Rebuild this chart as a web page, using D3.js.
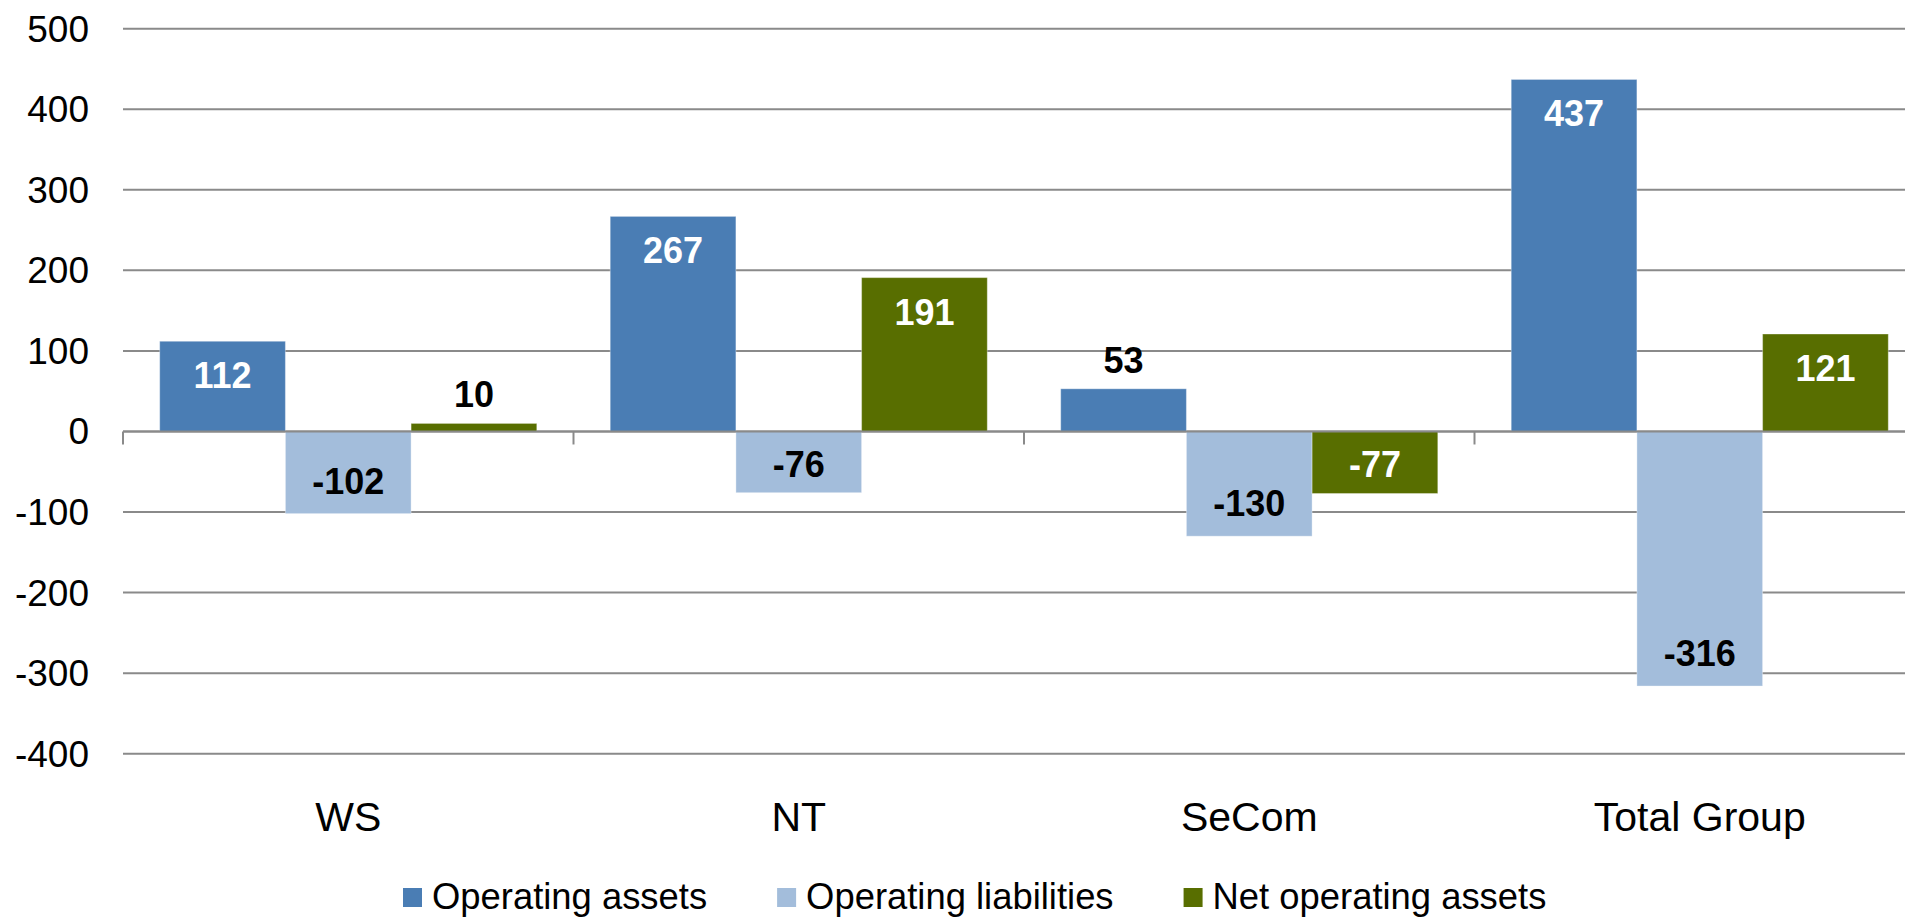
<!DOCTYPE html>
<html>
<head>
<meta charset="utf-8">
<script src="https://cdn.jsdelivr.net/npm/d3@7"></script>
<style>
  html, body { margin: 0; padding: 0; background: #ffffff; overflow: hidden; }
  svg { display: block; font-family: "Liberation Sans", Arial, sans-serif; }
</style>
</head>
<body>
<svg id="chart" width="1905" height="918"></svg>
<script>
const categories = ["WS", "NT", "SeCom", "Total Group"];
const seriesNames = ["Operating assets", "Operating liabilities", "Net operating assets"];
const operatingAssets = [112, 267, 53, 437];
const operatingLiabilities = [-102, -76, -130, -316];
const netOperatingAssets = [10, 191, -77, 121];
const yTicks = [500, 400, 300, 200, 100, 0, -100, -200, -300, -400];
const seriesColors = ["#4a7db4", "#a3bddb", "#586e00"];
const labelColorsInside = ["#ffffff", "#000000", "#ffffff"];

const seriesValues = [operatingAssets, operatingLiabilities, netOperatingAssets];

const svg = d3.select("#chart");

const y = d3.scaleLinear().domain([-400, 500]).range([753.7, 28.7]);
const x0 = d3.scaleBand().domain(categories).range([123, 1925]).paddingInner(0).paddingOuter(0);
const x1 = d3.scaleBand().domain(seriesNames).range([0, x0.bandwidth()]).paddingInner(0).paddingOuter(0.292);

// gridlines
svg.append("g").selectAll("line").data(yTicks).join("line")
  .attr("x1", 123).attr("x2", 1925)
  .attr("y1", d => y(d)).attr("y2", d => y(d))
  .attr("stroke", "#8a8a8a").attr("stroke-width", 2);

// y axis labels
const yAxis = d3.axisLeft(y).tickValues(yTicks).tickSize(0).tickPadding(0).tickFormat(d => String(d));
const yg = svg.append("g").attr("transform", "translate(89,0)").call(yAxis);
yg.select(".domain").remove();
yg.selectAll("text")
  .attr("font-size", 37).attr("fill", "#000").attr("dy", null)
  .attr("dominant-baseline", "central")
  .style("font-family", '"Liberation Sans", Arial, sans-serif');

// bars
const barData = [];
categories.forEach((c, i) => {
  seriesNames.forEach((s, j) => {
    barData.push({ cat: c, series: s, idx: j, value: seriesValues[j][i] });
  });
});

svg.append("g").selectAll("rect").data(barData).join("rect")
  .attr("x", d => x0(d.cat) + x1(d.series))
  .attr("width", x1.bandwidth())
  .attr("y", d => y(Math.max(0, d.value)))
  .attr("height", d => Math.abs(y(d.value) - y(0)))
  .attr("fill", d => seriesColors[d.idx])
  .attr("stroke", "#ffffff").attr("stroke-opacity", 0.35).attr("stroke-width", 1);

// zero line & category ticks
svg.append("line")
  .attr("x1", 123).attr("x2", 1925).attr("y1", y(0)).attr("y2", y(0))
  .attr("stroke", "#8a8a8a").attr("stroke-width", 2);
const boundaries = categories.map(c => x0(c));
svg.append("g").selectAll("line").data(boundaries).join("line")
  .attr("x1", d => d).attr("x2", d => d)
  .attr("y1", y(0)).attr("y2", y(0) + 13)
  .attr("stroke", "#8a8a8a").attr("stroke-width", 2);

// data labels
svg.append("g").selectAll("text").data(barData).join("text")
  .attr("x", d => x0(d.cat) + x1(d.series) + x1.bandwidth() / 2)
  .attr("y", d => {
    const h = Math.abs(y(d.value) - y(0));
    const end = y(d.value);
    if (h < 55) return d.value >= 0 ? end - 16 : end + 40;
    if (h < 70) return (y(0) + end) / 2 + 15;
    return d.value >= 0 ? end + 47 : end - 20;
  })
  .attr("text-anchor", "middle")
  .attr("font-size", 36).attr("font-weight", "bold")
  .attr("fill", d => {
    const h = Math.abs(y(d.value) - y(0));
    return h < 55 ? "#000000" : labelColorsInside[d.idx];
  })
  .text(d => String(d.value));

// category labels
const xAxis = d3.axisBottom(x0).tickSize(0).tickPadding(0);
const xg = svg.append("g").attr("transform", "translate(0,800)").call(xAxis);
xg.select(".domain").remove();
xg.selectAll("text")
  .attr("font-size", 41).attr("fill", "#000").attr("y", 30.7).attr("dy", null)
  .style("font-family", '"Liberation Sans", Arial, sans-serif');

// legend
const legend = svg.append("g");
let lx = 403;
seriesNames.forEach((s, j) => {
  const g = legend.append("g").attr("transform", `translate(${lx},0)`);
  g.append("rect").attr("x", 0).attr("y", 888).attr("width", 19).attr("height", 19).attr("fill", seriesColors[j]);
  const t = g.append("text").attr("x", 29).attr("y", 909).attr("font-size", 36.4).attr("fill", "#000").text(s);
  const w = t.node().getComputedTextLength();
  lx += 29 + w + 70;
});
</script>
</body>
</html>
